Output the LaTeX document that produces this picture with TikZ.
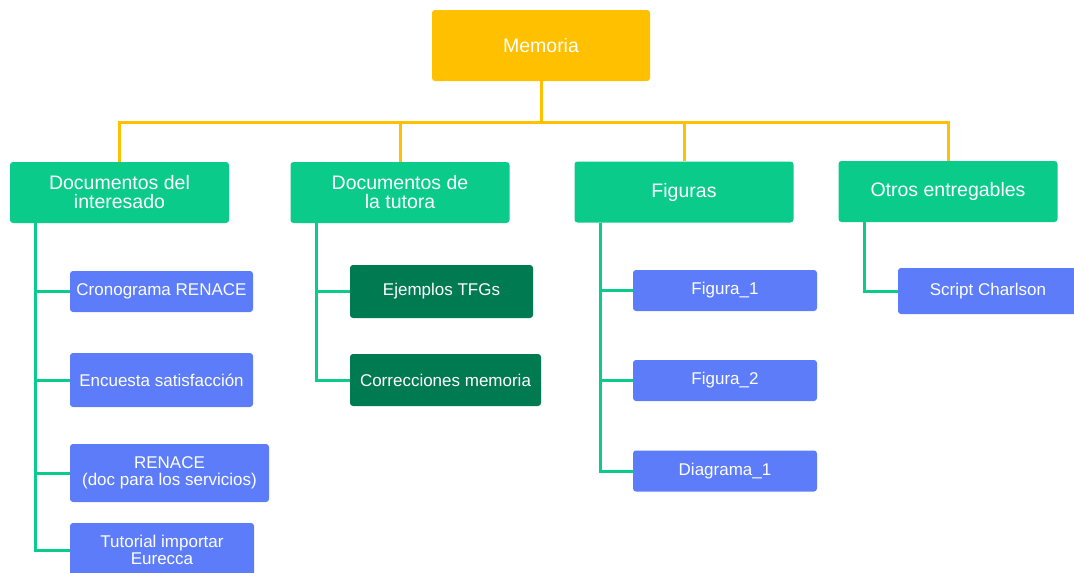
\documentclass[tikz,border=0pt]{standalone}
\usepackage{fontspec}
\setmainfont{Liberation Sans}
\usetikzlibrary{positioning}

\definecolor{memcolor}{HTML}{FFC000}
\definecolor{grpcolor}{HTML}{0ACB8A}
\definecolor{leafcolor}{HTML}{5C7CFA}
\definecolor{darkleaf}{HTML}{007A50}

\begin{document}
\begin{tikzpicture}[x=1pt, y=-1pt,
    box/.style={rounded corners=3pt, inner sep=0pt, align=center, text=white},
    root/.style={box, fill=memcolor, minimum width=218pt, minimum height=71pt,
      font=\fontsize{19.5}{19.5}\selectfont},
    group/.style={box, fill=grpcolor, minimum width=219pt, minimum height=61pt,
      font=\fontsize{19.5}{19}\selectfont},
    leaf/.style 2 args={box, fill=leafcolor, minimum width=#1, minimum height=#2,
      font=\fontsize{17}{17}\selectfont},
    darkleaf/.style 2 args={leaf={#1}{#2}, fill=darkleaf},
    bus/.style={draw=memcolor, line width=3pt},
    branch/.style={draw=grpcolor, line width=3pt}]
  \clip (0,0) rectangle (1074,573);
  \useasboundingbox (0,0) rectangle (1074,573);

  \node[root] (mem) at (541,45.5) {Memoria};

  \node[group] (inter) at (119.5,192.5) {Documentos del\\interesado};
  \node[group] (tutora) at (400,192.5) {Documentos de\\la tutora};
  \node[group] (fig) at (684,192) {Figuras};
  \node[group] (otros) at (948,191.5) {Otros entregables};

  \node[leaf={183pt}{41pt}] (crono) at (161.5,291.5) {Cronograma RENACE};
  \node[leaf={183pt}{54pt}] (encuesta) at (161.5,380) {Encuesta satisfacción};
  \node[leaf={199pt}{58pt}] (renace) at (169.5,473) {RENACE\\(doc para los servicios)};
  \node[leaf={184pt}{54pt}] (tutorial) at (162,550) {Tutorial importar\\Eurecca};

  \node[darkleaf={183pt}{53pt}] (ejemplos) at (441.5,291.5) {Ejemplos TFGs};
  \node[darkleaf={191pt}{52pt}] (correc) at (445.5,380) {Correcciones memoria};

  \node[leaf={184pt}{41pt}] (fig1) at (725,290.5) {Figura\_1};
  \node[leaf={184pt}{41pt}] (fig2) at (725,380.5) {Figura\_2};
  \node[leaf={184pt}{41pt}] (diag1) at (725,471) {Diagrama\_1};

  \node[leaf={180pt}{46pt}] (script) at (988,291) {Script Charlson};

  \path (mem.south) ++(0,41) coordinate (split);
  \draw[bus] (mem.south) -- (split);
  \foreach \g in {inter,tutora,fig,otros}
    \draw[bus] (\g.north) |- (split);

  \foreach \c in {crono,encuesta,renace,tutorial}
    \draw[branch] ([xshift=26pt]inter.south west) |- (\c.west);
  \foreach \c in {ejemplos,correc}
    \draw[branch] ([xshift=26pt]tutora.south west) |- (\c.west);
  \foreach \c in {fig1,fig2,diag1}
    \draw[branch] ([xshift=26pt]fig.south west) |- (\c.west);
  \draw[branch] ([xshift=26pt]otros.south west) |- (script.west);
\end{tikzpicture}
\end{document}
